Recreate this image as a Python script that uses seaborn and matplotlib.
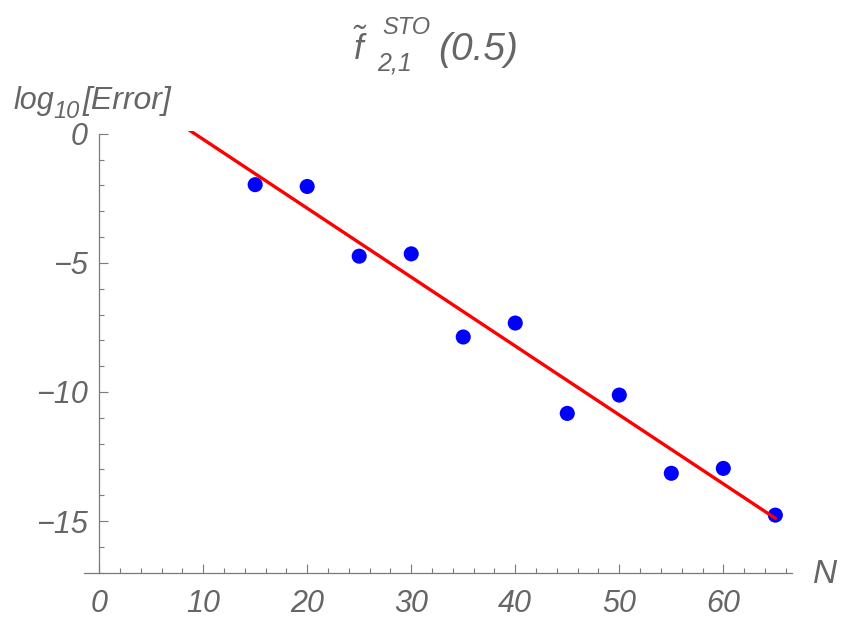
import numpy as np
import pandas as pd
import matplotlib
matplotlib.use("Agg")
import matplotlib.pyplot as plt
from matplotlib.ticker import MultipleLocator
import seaborn as sns

# Truncation order and log10 of the error
n_values = [15, 20, 25, 30, 35, 40, 45, 50, 55, 60, 65]
log_error = [-1.97, -2.04, -4.74, -4.65, -7.87, -7.33, -10.83, -10.12, -13.15, -12.96, -14.77]

x_major = [0, 10, 20, 30, 40, 50, 60]
y_major = [0, -5, -10, -15]

sns.set_theme(style="white")
plt.rcParams["font.family"] = ["Liberation Sans", "DejaVu Sans"]
plt.rcParams["mathtext.fontset"] = "custom"
plt.rcParams["mathtext.it"] = "Liberation Sans:italic"
plt.rcParams["mathtext.rm"] = "Liberation Sans:italic"
plt.rcParams["mathtext.sf"] = "Liberation Sans:italic"
plt.rcParams["mathtext.default"] = "it"

text_gray = "#666666"
axis_gray = "#7a7a7a"

df = pd.DataFrame({"N": n_values, "err": log_error})

# Least-squares straight line through the points
slope, intercept = np.polyfit(df["N"], df["err"], 1)
fit = pd.DataFrame({"N": [0, 65]})
fit["err"] = intercept + slope * fit["N"]

W, H = 842, 621
fig = plt.figure(figsize=(W / 100, H / 100), dpi=100)
ax = fig.add_axes([0.0998, 0.0778, 0.8408, 0.7117])

sns.scatterplot(data=df, x="N", y="err", ax=ax, color=(0, 0, 1), s=118,
                edgecolor="none", linewidth=0, zorder=3)
sns.lineplot(data=fit, x="N", y="err", ax=ax, color=(1, 0, 0), linewidth=2.4,
             zorder=4)

ax.set_xlim(-1.45, 66.6)
ax.set_ylim(-17, 0.12)

# Mathematica-style crossing axes
for side in ("top", "right"):
    ax.spines[side].set_visible(False)
ax.spines["left"].set_position(("data", 0))
ax.spines["left"].set_bounds(-17, 0)
for side in ("left", "bottom"):
    ax.spines[side].set_color(axis_gray)
    ax.spines[side].set_linewidth(0.9)

ax.set_xticks(x_major)
ax.set_yticks(y_major)
ax.xaxis.set_minor_locator(MultipleLocator(2))
ax.yaxis.set_minor_locator(MultipleLocator(1))
ax.tick_params(axis="both", which="both", bottom=True, left=True,
               top=False, right=False)
ax.tick_params(axis="both", which="major", direction="in", length=6.5,
               width=0.8, color=axis_gray, labelcolor=text_gray,
               labelsize=22)
ax.tick_params(axis="both", which="minor", direction="in", length=3.8,
               width=0.8, color=axis_gray)
ax.tick_params(axis="x", which="major", pad=12)
ax.tick_params(axis="y", which="major", pad=8)
for lab in ax.get_xticklabels() + ax.get_yticklabels():
    lab.set_fontstyle("italic")

ax.set_xlabel("")
ax.set_ylabel("")
ax.grid(False)


def put(px, py, s, size):
    """Place italic gray text with its left baseline at pixel (px, py)."""
    fig.text(px / W, 1 - py / H, s, ha="left", va="baseline",
             fontsize=size, color=text_gray, fontstyle="italic")


# Title: f-tilde with sub/superscripts, then the argument
put(353, 60, r"$\tilde{f}$", 25)
put(377, 70, "2,1", 18)
put(382, 34, "STO", 17)
put(438, 60, "(0.5)", 28)

# Vertical axis label
put(13, 109, "log", 22)
put(53, 118, "10", 17)
put(83, 109, "[Error]", 23)

# Horizontal axis label
put(813, 583, "N", 24)

fig.savefig("out.png", dpi=100, facecolor="white")
